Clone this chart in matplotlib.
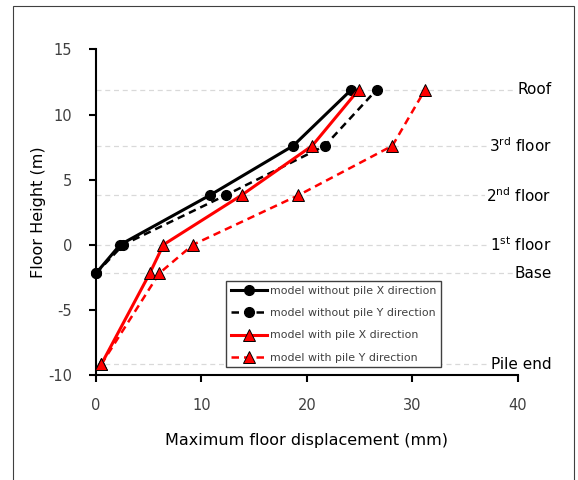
import numpy as np
import matplotlib
matplotlib.use("Agg")
import matplotlib.pyplot as plt
from matplotlib.patches import Rectangle

plt.rcParams["font.family"] = ["DejaVu Sans"]
plt.rcParams["axes.unicode_minus"] = False
plt.rcParams["mathtext.default"] = "regular"

# floor levels (m)
level_names = ["Pile end", "Base", "1$^{st}$ floor", "2$^{nd}$ floor", "3$^{rd}$ floor", "Roof"]
level_heights = [-9.2, -2.2, 0.0, 3.8, 7.6, 11.9]

# displacement (mm) - model without pile (base to roof)
h_nopile = [-2.2, 0.0, 3.8, 7.6, 11.9]
nopile_x = [0.0, 2.3, 10.8, 18.7, 24.2]
nopile_y = [0.0, 2.6, 12.3, 21.7, 26.6]

# displacement (mm) - model with pile (pile end to roof)
h_pile = [-9.2, -2.2, 0.0, 3.8, 7.6, 11.9]
pile_x = [0.5, 5.1, 6.4, 13.8, 20.5, 24.9]
pile_y = [0.5, 6.0, 9.2, 19.2, 28.1, 31.2]

fig = plt.figure(figsize=(5.78, 4.80), dpi=100)
ax = fig.add_axes([0.166, 0.219, 0.730, 0.678])

# border around the whole picture
fig.patches.append(Rectangle((13 / 578, -0.05), (574 - 13) / 578, 1.05 - 6 / 480,
                             transform=fig.transFigure, fill=False,
                             edgecolor="#404040", linewidth=0.8))

for name, h in zip(level_names, level_heights):
    ax.plot([0, 43], [h, h], color="#d9d9d9", linestyle=(0, (4, 3)), linewidth=0.9,
            clip_on=False, zorder=0)
    ax.text(43.2, h, name, ha="right", va="center", fontsize=11, color="black",
            bbox=dict(facecolor="white", edgecolor="none", pad=1.0), clip_on=False, zorder=1)

ax.plot(nopile_x, h_nopile, color="black", linewidth=2.2, marker="o", markersize=7,
        label="model without pile X direction", clip_on=False, zorder=4)
ax.plot(nopile_y, h_nopile, color="black", linewidth=1.8, linestyle=(0, (3, 2)), marker="o",
        markersize=7, label="model without pile Y direction", clip_on=False, zorder=3)
ax.plot(pile_x, h_pile, color="red", linewidth=2.2, marker="^", markersize=9,
        markerfacecolor="red", markeredgecolor="black", markeredgewidth=0.7,
        label="model with pile X direction", clip_on=False, zorder=5)
ax.plot(pile_y, h_pile, color="red", linewidth=1.8, linestyle=(0, (3, 2)), marker="^",
        markersize=9, markerfacecolor="red", markeredgecolor="black", markeredgewidth=0.7,
        label="model with pile Y direction", clip_on=False, zorder=5)

ax.set_xlim(0, 40)
ax.set_ylim(-10, 15)
ax.set_xticks([0, 10, 20, 30, 40])
ax.set_yticks([-10, -5, 0, 5, 10, 15])

for side in ["top", "right"]:
    ax.spines[side].set_visible(False)
for side in ["left", "bottom"]:
    ax.spines[side].set_linewidth(1.5)
    ax.spines[side].set_color("black")
ax.tick_params(direction="out", length=5, width=1.5, labelsize=10.5, labelcolor="#404040", pad=12)

ax.set_xlabel("Maximum floor displacement (mm)", fontsize=11.5, labelpad=14)
ax.set_ylabel("Floor Height (m)", fontsize=11.5, labelpad=2)

leg = ax.legend(loc="upper left", bbox_to_anchor=(221 / 578, 1 - 276 / 480),
                bbox_transform=fig.transFigure, fontsize=7.9, frameon=True, fancybox=False,
                edgecolor="#404040", framealpha=1, borderpad=0.4, labelspacing=1.12,
                handlelength=3.3, handletextpad=0.3)
leg.get_frame().set_linewidth(1.0)
for t in leg.get_texts():
    t.set_color("#404040")
leg.set_zorder(6)

fig.savefig("out.png", dpi=100)
